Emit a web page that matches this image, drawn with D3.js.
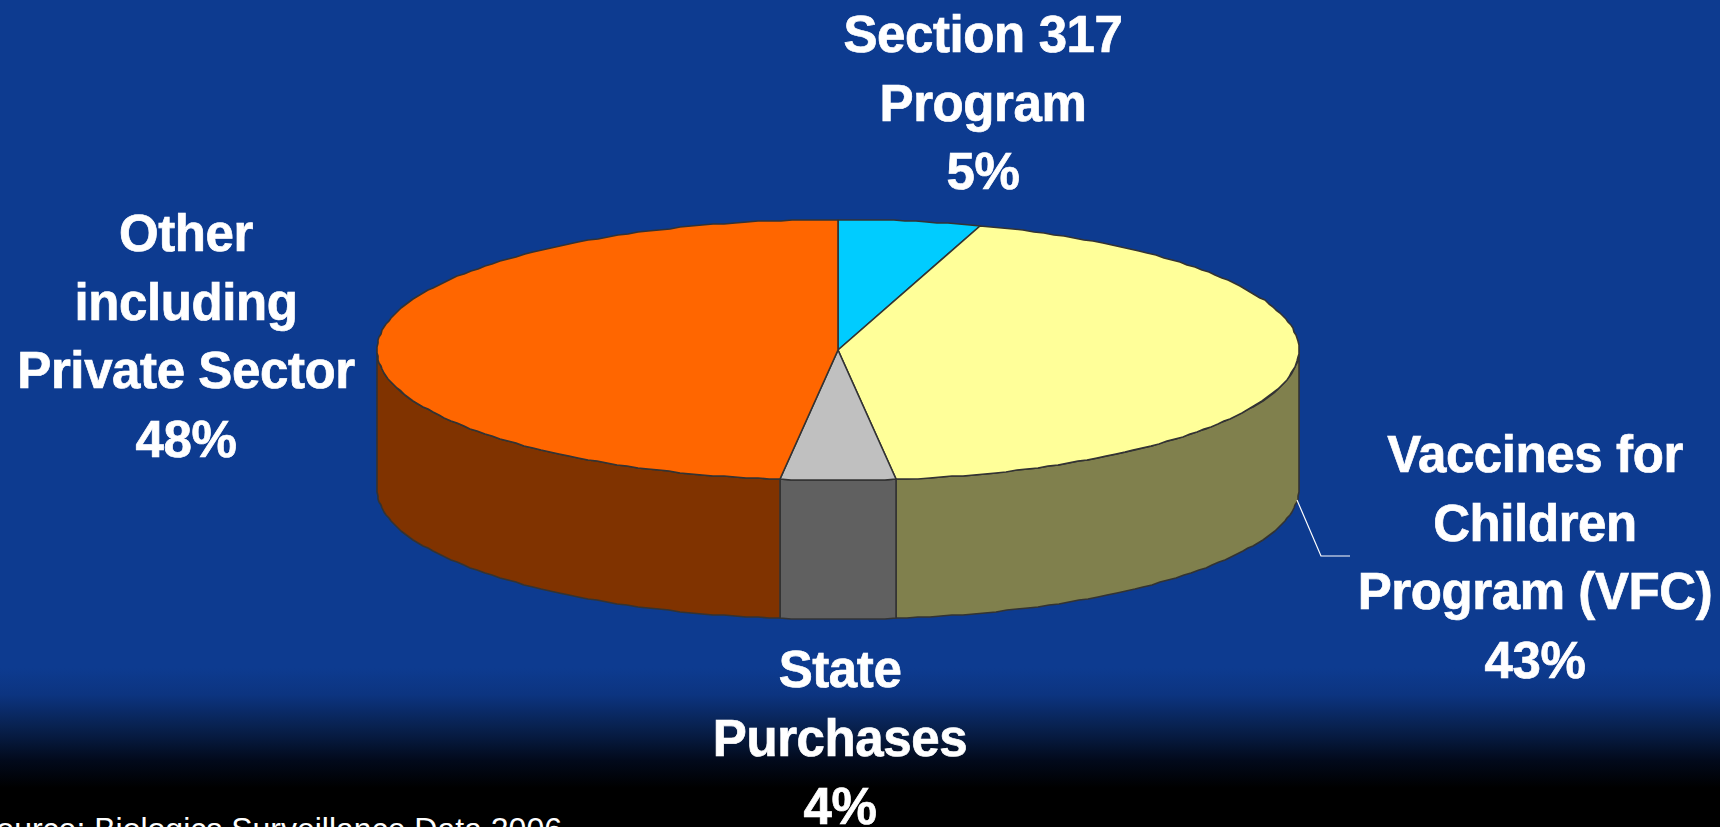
<!DOCTYPE html>
<html>
<head>
<meta charset="utf-8">
<script src="https://cdn.jsdelivr.net/npm/d3@7"></script>
<style>
  html, body { margin: 0; padding: 0; background: #000; overflow: hidden; }
  svg { display: block; }
  text { font-family: "Liberation Sans", Arial, sans-serif; fill: #fff; }
</style>
</head>
<body>
<div id="chart"></div>
<script>
// values
const categories = ["Section 317 Program", "Vaccines for Children Program (VFC)", "State Purchases", "Other including Private Sector"];
const shares = [5, 43, 4, 48];
const labelLines = [
  ["Section 317", "Program", "5%"],
  ["Vaccines for", "Children", "Program (VFC)", "43%"],
  ["State", "Purchases", "4%"],
  ["Other", "including", "Private Sector", "48%"]
];
const topColors = ["#00ccff", "#ffff99", "#c0c0c0", "#ff6600"];
const sideColors = ["#006680", "#80804d", "#606060", "#803300"];
const sourceNote = "Source: Biologics Surveillance Data 2006";

const width = 1720, height = 827;
const cx = 838, cy = 350, rx = 461, ry = 130.5, depth = 139;
const lineStep = 68.5;

// centre x and first baseline of each label
const labelPos = [[983, 52], [1535, 472], [840, 687], [186, 251]];

const svg = d3.select("#chart").append("svg")
  .attr("width", width)
  .attr("height", height);

const grad = svg.append("defs").append("linearGradient")
  .attr("id", "bg")
  .attr("gradientUnits", "userSpaceOnUse")
  .attr("x1", 0).attr("y1", 0).attr("x2", 0).attr("y2", height);
[[668, "#0d3b90"], [695, "#0c3480"], [727, "#08214f"], [760, "#020a1c"], [788, "#000000"]].forEach(s => {
  grad.append("stop").attr("offset", s[0] / height).attr("stop-color", s[1]);
});

svg.append("rect")
  .attr("width", width).attr("height", height)
  .attr("fill", "url(#bg)");

// unit circle -> tilted ellipse on screen
const x = d3.scaleLinear().domain([-1, 1]).range([cx - rx, cx + rx]);
const y = d3.scaleLinear().domain([-1, 1]).range([cy - ry, cy + ry]);

const pie = d3.pie().sort(null).value(d => d).startAngle(0).endAngle(2 * Math.PI);
const arcs = pie(shares);

// rim snapped to whole pixels, the original has a slightly stepped edge
const rimX = a => Math.round(x(Math.sin(a)));
const rimY = a => Math.round(y(-Math.cos(a)));
const line = d3.line();

function sample(a0, a1) {
  const n = Math.max(2, Math.ceil((a1 - a0) * 40));
  return d3.range(n + 1).map(i => a0 + (a1 - a0) * i / n);
}

// walls, only the front half of the rim shows
const front0 = Math.PI / 2, front1 = 3 * Math.PI / 2;
svg.append("g").selectAll("path")
  .data(arcs.filter(d => d.endAngle > front0 && d.startAngle < front1))
  .join("path")
  .attr("d", d => {
    const as = sample(Math.max(d.startAngle, front0), Math.min(d.endAngle, front1));
    const upper = as.map(a => [rimX(a), rimY(a)]);
    const lower = as.slice().reverse().map(a => [rimX(a), rimY(a) + depth]);
    return line(upper.concat(lower)) + "Z";
  })
  .attr("fill", d => sideColors[d.index])
  .attr("stroke", "#333")
  .attr("stroke-width", 1.6)
  .attr("stroke-linejoin", "round");

// top face
svg.append("g").selectAll("path")
  .data(arcs)
  .join("path")
  .attr("d", d => {
    const rim = sample(d.startAngle, d.endAngle).map(a => [rimX(a), rimY(a)]);
    return line([[x(0), y(0)]].concat(rim)) + "Z";
  })
  .attr("fill", d => topColors[d.index])
  .attr("stroke", "#333")
  .attr("stroke-width", 1.6)
  .attr("stroke-linejoin", "round");

// leader line for the VFC label
svg.append("path")
  .attr("d", line([[1297, 500], [1321, 556], [1350, 556]]))
  .attr("fill", "none")
  .attr("stroke", "#fff")
  .attr("stroke-width", 1.2);

// labels
const labels = svg.append("g").selectAll("text")
  .data(labelLines)
  .join("text")
  .attr("text-anchor", "middle")
  .attr("font-size", 51)
  .attr("font-weight", "bold")
  .attr("letter-spacing", "-0.4")
  .attr("stroke", "#fff")
  .attr("stroke-width", 0.7);

labels.selectAll("tspan")
  .data((d, i) => d.map((t, j) => ({t, j, i})))
  .join("tspan")
  .attr("x", d => labelPos[d.i][0])
  .attr("y", d => labelPos[d.i][1] + d.j * lineStep)
  .text(d => d.t);

svg.append("text")
  .attr("x", -25)
  .attr("y", 840)
  .attr("font-size", 32)
  .text(sourceNote);
</script>
</body>
</html>
